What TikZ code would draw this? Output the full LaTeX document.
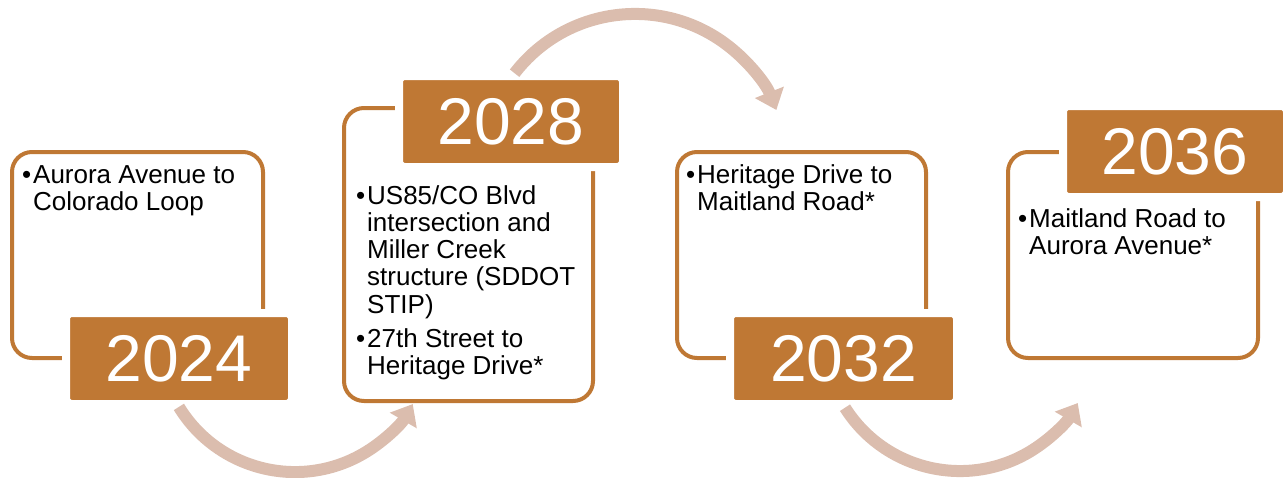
\documentclass[tikz,border=0pt]{standalone}
\usepackage{fontspec}
\setmainfont{Liberation Sans}
\usetikzlibrary{arrows.meta}
\definecolor{rust}{HTML}{BF7834}
\definecolor{flow}{HTML}{DBBDAE}
\newcommand\bodyfont{\fontsize{26}{27.3}\selectfont}
\newcommand\bul{\makebox[11pt][l]{\textbullet}}
\begin{document}
\begin{tikzpicture}[x=1pt,y=-1pt,
  panel/.style={draw=rust, line width=4pt, rounded corners=20pt, inner sep=0pt, fill=white},
  yearbox/.style={fill=rust, draw=white, line width=8pt, rounded corners=6pt, inner sep=0pt,
    text=white, font=\fontsize{66}{70}\selectfont},
  bodytext/.style={anchor=base west, inner sep=0pt, font=\bodyfont, text=black},
  flowarrow/.style={draw=flow, line width=12pt, -{Triangle[width=30pt,length=19pt]}}]
\useasboundingbox (0,0) rectangle (1284,477);

% panels
\node[panel, minimum width=251pt, minimum height=206pt] (p1) at (137.5,255) {};
\node[panel, minimum width=249pt, minimum height=293pt] (p2) at (468.5,254.5) {};
\node[panel, minimum width=249pt, minimum height=206pt] (p3) at (801.5,255) {};
\node[panel, minimum width=250pt, minimum height=206pt] (p4) at (1133,255) {};

% year labels
\node[yearbox, minimum width=226pt, minimum height=91pt] (y1) at (179,358.5) {2024};
\node[yearbox, minimum width=224pt, minimum height=91pt] (y2) at (511,121.5) {2028};
\node[yearbox, minimum width=227pt, minimum height=91pt] (y3) at (843.5,358.5) {2032};
\node[yearbox, minimum width=224pt, minimum height=91pt] (y4) at (1175,151.5) {2036};

% texts
\node[bodytext] (t1) at (22,183) {\begin{tabular}[t]{@{}l@{}l@{}}
\bul&Aurora Avenue to\\ &Colorado Loop\end{tabular}};
\node[bodytext] (t2) at (356,204) {\begin{tabular}[t]{@{}l@{}l@{}}
\bul&US85/CO Blvd\\ &intersection and\\ &Miller Creek\\ &structure (SDDOT\\ &STIP)\\[6.5pt]
\bul&27th Street to\\ &Heritage Drive*\end{tabular}};
\node[bodytext] (t3) at (686,183) {\begin{tabular}[t]{@{}l@{}l@{}}
\bul&Heritage Drive to\\ &Maitland Road*\end{tabular}};
\node[bodytext] (t4) at (1018,227) {\begin{tabular}[t]{@{}l@{}l@{}}
\bul&Maitland Road to\\ &Aurora Avenue*\end{tabular}};

% flow arrows
\coordinate (a1s) at (178.9,406.9);
\coordinate (a2s) at (514.6,73.2);
\coordinate (a3s) at (845,407.7);
\draw[flowarrow] (a1s) arc[start angle=148.6, end angle=30, radius=136];
\draw[flowarrow] (a2s) arc[start angle=217.6, end angle=338.4, radius=152];
\draw[flowarrow] (a3s) arc[start angle=147.7, end angle=30, radius=136];
\end{tikzpicture}
\end{document}
